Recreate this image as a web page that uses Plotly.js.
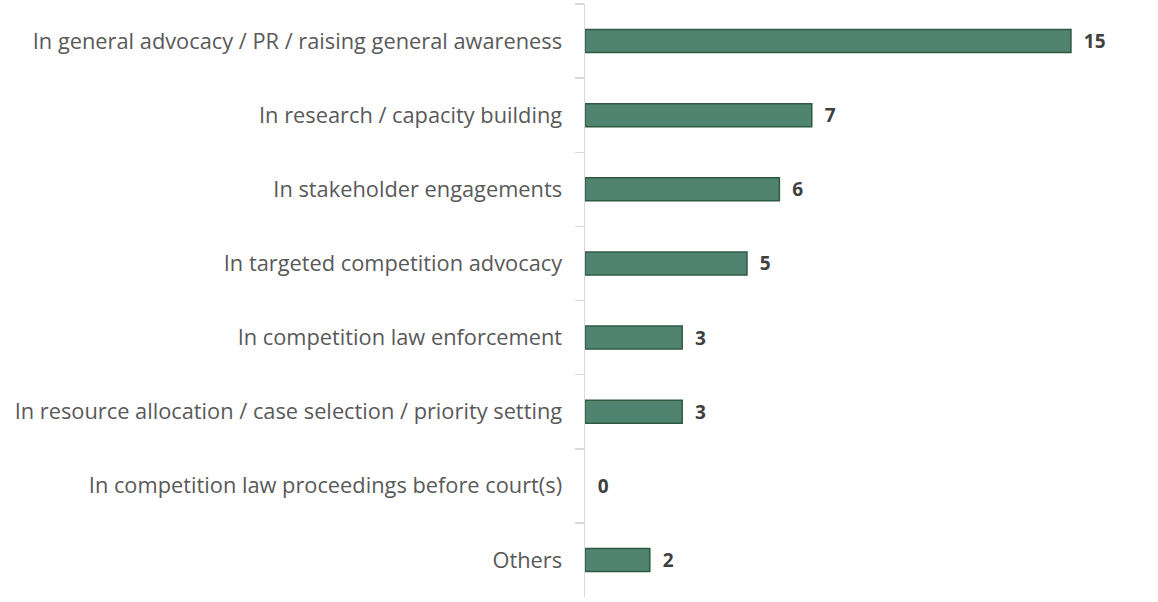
<!DOCTYPE html>
<html>
<head>
<meta charset="utf-8">
<script src="https://cdn.plot.ly/plotly-3.0.1.min.js"></script>
<style>html,body{margin:0;padding:0;background:#fff;}#chart{width:1158px;height:602px;}</style>
</head>
<body>
<div id="chart"></div>
<script>
const categories = [
  "In general advocacy / PR / raising general awareness",
  "In research / capacity building",
  "In stakeholder engagements",
  "In targeted competition advocacy",
  "In competition law enforcement",
  "In resource allocation / case selection / priority setting",
  "In competition law proceedings before court(s)",
  "Others"
];
const values = [15, 7, 6, 5, 3, 3, 0, 2];

const trace = {
  type: "bar",
  orientation: "h",
  y: categories,
  x: values,
  text: values.map(v => "  " + v),
  textposition: "outside",
  constraintext: "none",
  cliponaxis: false,
  textfont: {family: "Open Sans, Noto Sans, sans-serif", size: 19, color: "#404040", weight: "bold"},
  marker: {color: "#518470", line: {color: "#2e5a44", width: values.map(v => v > 0 ? 1.5 : 0)}},
  hoverinfo: "none"
};

const layout = {
  width: 1158, height: 602,
  margin: {l: 585, r: 20, t: 4, b: 5},
  paper_bgcolor: "#fff", plot_bgcolor: "#fff",
  showlegend: false,
  bargap: 0.69,
  xaxis: {range: [0, 17.07], visible: false, fixedrange: true},
  yaxis: {
    autorange: "reversed",
    type: "category",
    showline: true, linecolor: "#d9d9d9", linewidth: 1.5,
    ticks: "outside", tickson: "boundaries", ticklen: 9, tickcolor: "#d9d9d9", tickwidth: 1.5,
    ticklabelstandoff: 17,
    showgrid: false, zeroline: false,
    tickfont: {family: "Open Sans, Noto Sans, sans-serif", size: 21.8, color: "#595959"}
  }
};

Plotly.newPlot("chart", [trace], layout, {displayModeBar: false, staticPlot: true});
</script>
</body>
</html>
